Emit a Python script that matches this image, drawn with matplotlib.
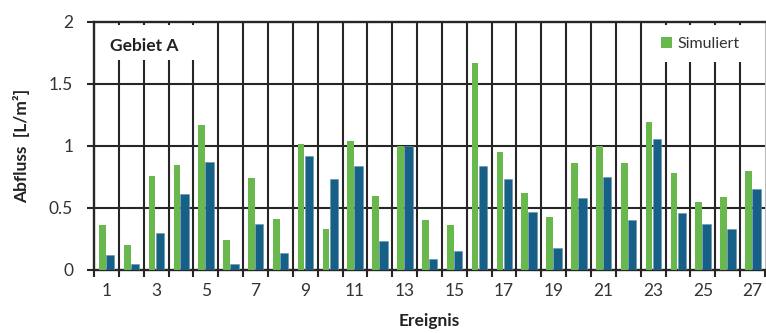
import matplotlib
matplotlib.use("Agg")
import matplotlib.pyplot as plt
from matplotlib.patches import Rectangle
import numpy as np

events = list(range(1, 28))
simuliert = [0.36, 0.20, 0.76, 0.85, 1.17, 0.24, 0.74, 0.41, 1.02, 0.33,
             1.04, 0.60, 1.00, 0.40, 0.36, 1.67, 0.95, 0.62, 0.43, 0.86,
             1.00, 0.86, 1.19, 0.78, 0.55, 0.59, 0.80]
gemessen = [0.12, 0.05, 0.30, 0.61, 0.87, 0.05, 0.37, 0.14, 0.92, 0.73,
            0.84, 0.23, 1.00, 0.09, 0.15, 0.84, 0.73, 0.47, 0.18, 0.58,
            0.75, 0.40, 1.06, 0.46, 0.37, 0.33, 0.65]
xtick_labels = [str(e) for e in events if e % 2 == 1]
yticks = [0, 0.5, 1, 1.5, 2]

plt.rcParams['font.family'] = ['Lato', 'DejaVu Sans']

green = '#69b84d'
blue = '#165f86'
grid_c = '#262626'

fig = plt.figure(figsize=(7.66, 3.33), dpi=100)
ax = fig.add_axes([94/766, 1-270/333, 671/766, 248/333])

x = np.arange(len(events))
ax.bar(x - 0.165, simuliert, width=0.27, color=green, zorder=3, label='Simuliert')
ax.bar(x + 0.15, gemessen, width=0.34, color=blue, edgecolor='#6a93ab', linewidth=0.4, zorder=3.1)

ax.set_xlim(-0.5, len(events) - 0.5)
ax.set_ylim(0, 2)

# grid
for b in np.arange(0.5, len(events) - 0.5, 1.0):
    ax.axvline(b, color=grid_c, lw=1.5, zorder=1)
for yv in [0.5, 1.0, 1.5]:
    ax.axhline(yv, color=grid_c, lw=1.5, zorder=1)

for s in ['left', 'bottom', 'top']:
    ax.spines[s].set_color(grid_c)
    ax.spines[s].set_linewidth(1.7)
ax.spines['right'].set_color('#bbbbbb')
ax.spines['right'].set_linewidth(0.8)

ax.set_xticks(x[::2])
ax.set_xticklabels(xtick_labels)
ax.set_xticks(np.arange(-0.5, len(events) + 0.5, 1.0), minor=True)
ax.tick_params(axis='x', which='major', length=0, pad=9, labelsize=12.5, labelcolor='#333333')
ax.tick_params(axis='x', which='minor', length=5, width=1.5, color=grid_c, direction='out')
ax.set_yticks(yticks)
ax.set_yticklabels(['0', '0.5', '1', '1.5', '2'])
ax.tick_params(axis='y', length=5, width=1.5, color=grid_c, pad=10, labelsize=12.5, labelcolor='#333333')

ax.set_ylabel('Abfluss  [L/m²]', fontsize=12.5, fontweight='bold', color='#222222')
ax.yaxis.set_label_coords(-0.095, 0.5)
ax.set_xlabel('Ereignis', fontsize=12.5, fontweight='bold', color='#222222')
ax.xaxis.set_label_coords(0.5, -0.175)

# white boxes
ax.add_patch(Rectangle((2/672, 0.847), 104/672, 0.141, transform=ax.transAxes,
                       facecolor='white', edgecolor='none', zorder=4))
ax.text(16/672, 0.905, 'Gebiet A', transform=ax.transAxes, fontsize=12.5,
        fontweight='bold', va='center', ha='left', color='#222222', zorder=5)

ax.add_patch(Rectangle((556/672, 0.839), 114/672, 0.149, transform=ax.transAxes,
                       facecolor='white', edgecolor='none', zorder=4))
leg = ax.legend(loc='center left', bbox_to_anchor=(568/672, 0.912), frameon=False,
                fontsize=11.5, handlelength=0.65, handleheight=0.65,
                handletextpad=0.35, borderpad=0, borderaxespad=0)
leg.set_zorder(6)
for t in leg.get_texts():
    t.set_color('#333333')

fig.savefig('out.png', dpi=100)
